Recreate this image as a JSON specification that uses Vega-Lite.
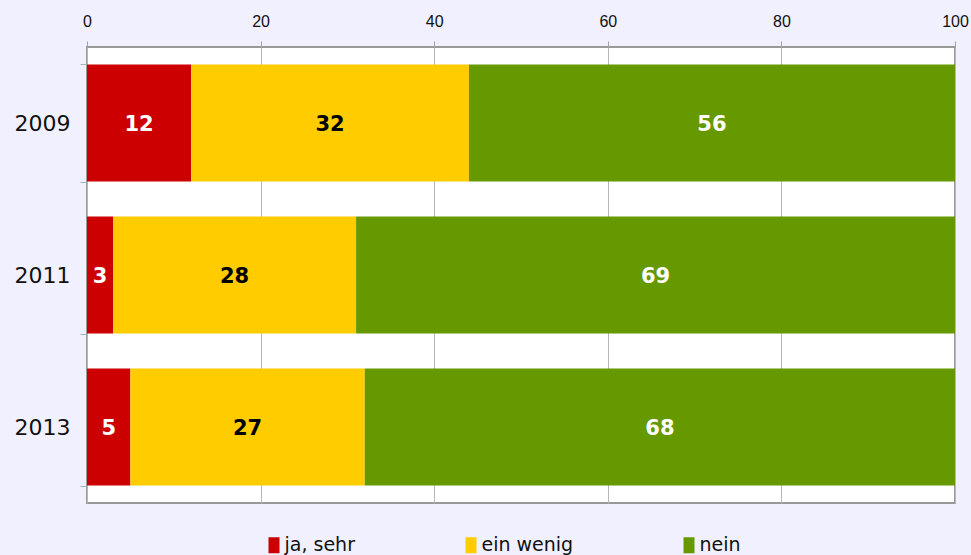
{
  "$schema": "https://vega.github.io/schema/vega-lite/v6.json",
  "width": 868,
  "height": 456,
  "autosize": "none",
  "padding": {"left": 87, "top": 47, "right": 16, "bottom": 52},
  "background": "#F0F0FF",
  "config": {
    "view": {"fill": "white", "stroke": "#999999", "strokeWidth": 2},
    "font": "DejaVu Sans"
  },
  "data": {
    "values": [
      {"year": "2009", "category": "ja, sehr", "value": 12, "order": 1},
      {"year": "2009", "category": "ein wenig", "value": 32, "order": 2},
      {"year": "2009", "category": "nein", "value": 56, "order": 3},
      {"year": "2011", "category": "ja, sehr", "value": 3, "order": 1},
      {"year": "2011", "category": "ein wenig", "value": 28, "order": 2},
      {"year": "2011", "category": "nein", "value": 69, "order": 3},
      {"year": "2013", "category": "ja, sehr", "value": 5, "order": 1},
      {"year": "2013", "category": "ein wenig", "value": 27, "order": 2},
      {"year": "2013", "category": "nein", "value": 68, "order": 3}
    ]
  },
  "encoding": {
    "y": {
      "field": "year",
      "type": "nominal",
      "sort": ["2009", "2011", "2013"],
      "scale": {"paddingInner": 0.23, "paddingOuter": 0.115},
      "axis": {
        "title": null,
        "domain": false,
        "tickBand": "extent",
        "tickSize": 7,
        "tickColor": "#b0b0b0",
        "labelPadding": 10,
        "labelFont": "DejaVu Sans",
        "labelFontSize": 22,
        "labelColor": "#111111"
      }
    }
  },
  "layer": [
    {
      "mark": {"type": "bar"},
      "encoding": {
        "x": {
          "field": "value",
          "type": "quantitative",
          "stack": "zero",
          "scale": {"domain": [0, 100], "nice": false},
          "axis": {
            "orient": "top",
            "title": null,
            "values": [0, 20, 40, 60, 80, 100],
            "domain": false,
            "tickSize": 6,
            "tickColor": "#a0a0a0",
            "gridColor": "#b8b8b8",
            "grid": true,
            "labelPadding": 12,
            "labelFont": "Liberation Sans",
            "labelFontSize": 16,
            "labelColor": "#111111",
            "labelFlush": false
          }
        },
        "order": {"field": "order", "type": "quantitative"},
        "color": {
          "field": "category",
          "type": "nominal",
          "scale": {
            "domain": ["ja, sehr", "ein wenig", "nein"],
            "range": ["#CC0000", "#FFCC00", "#669900"]
          },
          "legend": {
            "title": null,
            "orient": "none",
            "direction": "horizontal",
            "legendX": 177.5,
            "legendY": 488.5,
            "padding": 0,
            "columnPadding": 106,
            "symbolType": "M-0.6875,-1H0.6875V1H-0.6875Z",
            "symbolSize": 256,
            "symbolStrokeWidth": 0,
            "symbolOpacity": 1,
            "labelOffset": 1,
            "labelFont": "DejaVu Sans",
            "labelFontSize": 19,
            "labelColor": "#111111",
            "labelLimit": 300
          }
        }
      }
    },
    {
      "transform": [
        {"stack": "value", "groupby": ["year"], "sort": [{"field": "order"}], "as": ["v0", "v1"]},
        {"calculate": "(datum.v0 + datum.v1) / 2", "as": "mid"}
      ],
      "mark": {"type": "text", "font": "DejaVu Sans", "fontWeight": "bold", "fontSize": 21, "baseline": "middle", "align": "center", "dy": 1.5},
      "encoding": {
        "x": {"field": "mid", "type": "quantitative"},
        "text": {"field": "value", "type": "quantitative"},
        "color": {
          "condition": {"test": "datum.category === 'ein wenig'", "value": "#000000"},
          "value": "#ffffff"
        }
      }
    }
  ]
}
